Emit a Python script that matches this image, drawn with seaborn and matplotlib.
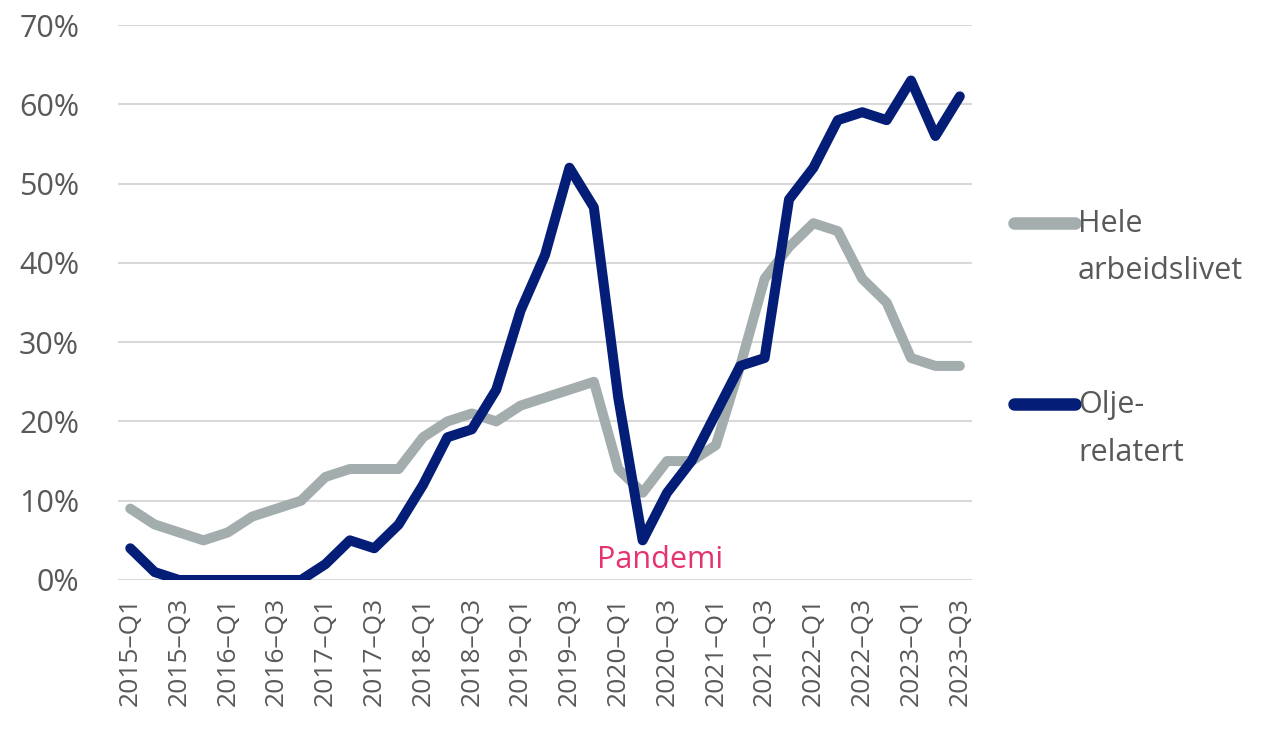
import numpy as np
import pandas as pd
import matplotlib
matplotlib.use("Agg")
import matplotlib.pyplot as plt
import seaborn as sns

# quarters 2015-Q1 .. 2023-Q3
years = [2015, 2016, 2017, 2018, 2019, 2020, 2021, 2022, 2023]
quarters = [f"{y}–Q{q}" for y in years for q in (1, 2, 3, 4)][:35]

hele = [9, 7, 6, 5, 6, 8, 9, 10, 13, 14, 14, 14, 18, 20, 21, 20, 22, 23, 24, 25,
        14, 11, 15, 15, 17, 27, 38, 42, 45, 44, 38, 35, 28, 27, 27]
olje = [4, 1, 0, 0, 0, 0, 0, 0, 2, 5, 4, 7, 12, 18, 19, 24, 34, 41, 52, 47,
        23, 5, 11, 15, 21, 27, 28, 48, 52, 58, 59, 58, 63, 56, 61]

labels = ["Hele\narbeidslivet", "Olje-\nrelatert"]
colors = ["#A3ADAD", "#041E78"]

df = pd.concat([
    pd.DataFrame({"idx": range(len(quarters)), "val": hele, "serie": labels[0]}),
    pd.DataFrame({"idx": range(len(quarters)), "val": olje, "serie": labels[1]}),
])

sns.set_theme(style="white")
plt.rcParams["font.family"] = ["Open Sans", "DejaVu Sans"]
txt = "#595959"

fig = plt.figure(figsize=(12.64, 7.29), dpi=100)
ax = fig.add_axes([0.0934, 0.2044, 0.6756, 0.7613])

sns.lineplot(data=df, x="idx", y="val", hue="serie", palette=colors,
             linewidth=7.2, ax=ax, solid_capstyle="round", solid_joinstyle="round")

ax.set_xlim(-0.5, len(quarters) - 0.5)
ax.set_ylim(0, 70)
ax.set_yticks(range(0, 71, 10))
ax.set_yticklabels([f"{v}%" for v in range(0, 71, 10)])
ax.set_xticks(range(0, len(quarters), 2))
ax.set_xticklabels(quarters[::2], rotation=90)
ax.grid(axis="y", color="#D9D9D9", linewidth=1.5, zorder=0)
ax.set_axisbelow(True)
for s in ax.spines.values():
    s.set_visible(False)
ax.tick_params(axis="y", length=0, pad=28, labelsize=22, labelcolor=txt)
ax.tick_params(axis="x", length=0, pad=12, labelsize=19, labelcolor=txt)
ax.set_xlabel("")
ax.set_ylabel("")

ax.text(21.7, 2.5, "Pandemi", ha="center", va="center", color="#E5336E", fontsize=22)

leg = ax.legend(loc="upper left", bbox_to_anchor=(0.802, 0.713), bbox_transform=fig.transFigure,
                frameon=False, fontsize=22, handlelength=2.0, handletextpad=0.1,
                labelspacing=3.4, borderpad=0, borderaxespad=0)
for t in leg.get_texts():
    t.set_color(txt)
    t.set_linespacing(1.75)
# put the handle level with the first line of each label
for h in leg.get_lines():
    h.set_linewidth(9)
    h.set_ydata(np.asarray(h.get_ydata()) + 18.5)

fig.savefig("out.png", dpi=100)
